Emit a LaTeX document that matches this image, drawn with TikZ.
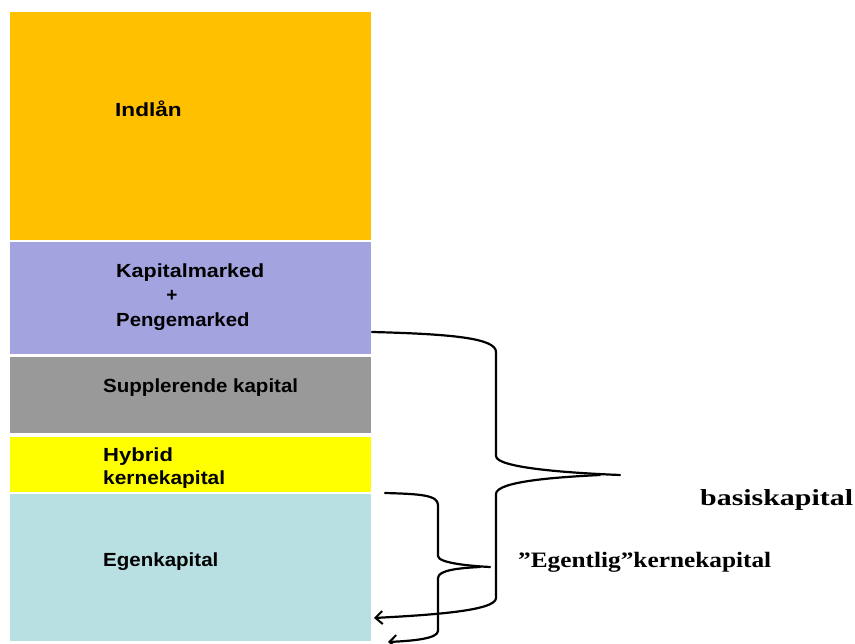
\documentclass[tikz,border=0pt]{standalone}
\usepackage{fontspec}
\newfontfamily\sansb{Liberation Sans}[BoldFont={* Bold}]
\newfontfamily\serifb{Liberation Serif}[BoldFont={* Bold}]
\usetikzlibrary{arrows.meta}
\definecolor{corange}{HTML}{FFC000}
\definecolor{cpurple}{HTML}{A3A3E0}
\definecolor{cgray}{HTML}{999999}
\definecolor{cyellow}{HTML}{FFFF00}
\definecolor{ccyan}{HTML}{B8E0E3}
\tikzset{
  block/.style={anchor=north west, inner sep=0pt, minimum width=361pt, draw=none},
  lbl/.style={anchor=base west, inner sep=0pt, font=\sansb\bfseries\fontsize{19}{21}\selectfont},
  slbl/.style={anchor=base west, inner sep=0pt},
  brace/.style={line width=2.2pt, line cap=round, line join=round},
  tip/.style={-{Straight Barb[length=7pt,width=13pt,line width=2pt]}}
}
\begin{document}
\begin{tikzpicture}[x=1pt,y=-1pt]
\useasboundingbox (0,0) rectangle (855,644);
% blocks
\node[block, fill=corange, minimum height=228pt] (indl) at (10,12) {};
\node[block, fill=cpurple, minimum height=112pt] (kap) at (10,242) {};
\node[block, fill=cgray, minimum height=76pt] (supp) at (10,357) {};
\node[block, fill=cyellow, minimum height=55pt] (hyb) at (10,437) {};
\node[block, fill=ccyan, minimum height=147pt] (egen) at (10,494) {};
% labels
\node[lbl] (t1) at (115,117) {\scalebox{1.19}[1]{Indlån}};
\node[lbl] (t2) at (116,278) {\scalebox{1.13}[1]{Kapitalmarked}};
\node[lbl, anchor=center] (t3) at (172,296) {+};
\node[lbl] (t4) at (116,327) {\scalebox{1.07}[1]{Pengemarked}};
\node[lbl] (t5) at (103,393) {\scalebox{1.08}[1]{Supplerende kapital}};
\node[lbl] (t6) at (103,462) {\scalebox{1.16}[1]{Hybrid}};
\node[lbl] (t7) at (103,485) {\scalebox{1.1}[1]{kernekapital}};
\node[lbl] (t8) at (103,566) {\scalebox{1.08}[1]{Egenkapital}};
\node[slbl, font=\serifb\bfseries\fontsize{23}{25}\selectfont] (basis) at (700,505) {\scalebox{1.3}[1]{basiskapital}};
\node[slbl, font=\serifb\bfseries\fontsize{22}{24}\selectfont] (egentlig) at (518,567) {\scalebox{1.15}[1]{”Egentlig”kernekapital}};
% brace 1 (basiskapital)
\coordinate (b1s) at (372,332);
\coordinate (b1t) at (620,475);
\coordinate (b1e) at (374,618);
\draw[brace] (b1s) .. controls (450,334) and (496,338) .. (496,352) -- (496,456)
  .. controls (496,468) and (570,473) .. (b1t);
\draw[brace, tip] (600,475) .. controls (560,477) and (496,481) .. (496,494) -- (496,598)
  .. controls (496,611) and (430,615) .. (b1e);
% brace 2 (egentlig kernekapital)
\coordinate (b2s) at (385,493);
\coordinate (b2t) at (490,567);
\coordinate (b2e) at (388,642);
\draw[brace] (b2s) .. controls (420,494) and (438,495) .. (438,505) -- (438,556)
  .. controls (438,563) and (470,566) .. (b2t);
\draw[brace, tip] (480,567) .. controls (460,568) and (438,570) .. (438,578) -- (438,631)
  .. controls (438,639) and (410,641) .. (b2e);
\end{tikzpicture}
\end{document}
